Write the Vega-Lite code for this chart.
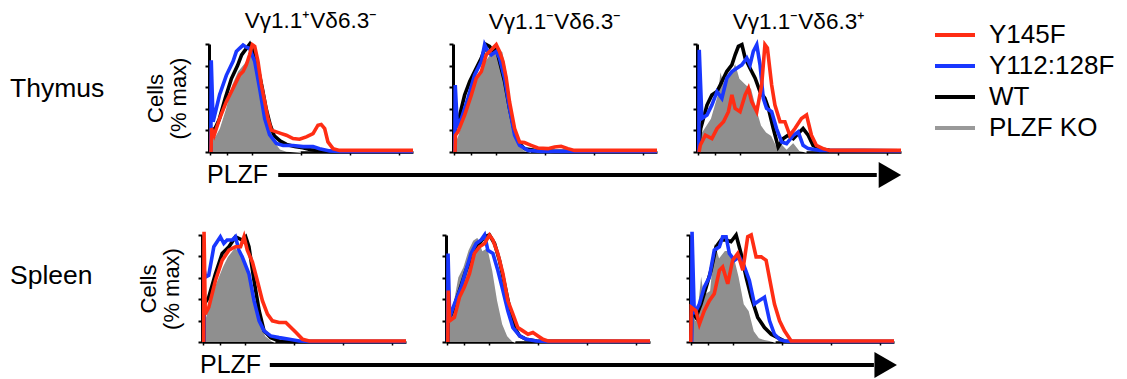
{
"$schema": "https://vega.github.io/schema/vega-lite/v6.json",
"padding": {"left": 10, "top": 10, "right": 5, "bottom": 0},
"config": {
  "view": {"stroke": null},
  "font": "Liberation Sans",
  "title": {"fontSize": 22.5, "fontWeight": "normal", "offset": 4, "color": "black"},
  "axis": {"grid": false, "labels": false, "domainColor": "black", "tickColor": "black", "zindex": 1, "titleFontWeight": "normal", "titleColor": "black"},
  "legend": {"padding": 0}
},
"datasets": {
"h": [
{"p":"T1","s":"PLZF KO","x":0.8,"y":0},{"p":"T1","s":"PLZF KO","x":1,"y":12},{"p":"T1","s":"PLZF KO","x":3,"y":15},{"p":"T1","s":"PLZF KO","x":5,"y":22},{"p":"T1","s":"PLZF KO","x":8,"y":40},{"p":"T1","s":"PLZF KO","x":11,"y":62},{"p":"T1","s":"PLZF KO","x":14,"y":75},{"p":"T1","s":"PLZF KO","x":17,"y":82},{"p":"T1","s":"PLZF KO","x":20,"y":90},{"p":"T1","s":"PLZF KO","x":21.5,"y":93},{"p":"T1","s":"PLZF KO","x":23,"y":88},{"p":"T1","s":"PLZF KO","x":25,"y":75},{"p":"T1","s":"PLZF KO","x":27,"y":55},{"p":"T1","s":"PLZF KO","x":29,"y":35},{"p":"T1","s":"PLZF KO","x":31,"y":18},{"p":"T1","s":"PLZF KO","x":33,"y":8},{"p":"T1","s":"PLZF KO","x":35,"y":3},{"p":"T1","s":"PLZF KO","x":38,"y":1},{"p":"T1","s":"PLZF KO","x":45,"y":0},
{"p":"T1","s":"WT","x":0.8,"y":0},{"p":"T1","s":"WT","x":1,"y":20},{"p":"T1","s":"WT","x":3,"y":22},{"p":"T1","s":"WT","x":5,"y":30},{"p":"T1","s":"WT","x":8,"y":50},{"p":"T1","s":"WT","x":11,"y":68},{"p":"T1","s":"WT","x":14,"y":80},{"p":"T1","s":"WT","x":16,"y":90},{"p":"T1","s":"WT","x":18,"y":95},{"p":"T1","s":"WT","x":20,"y":100},{"p":"T1","s":"WT","x":22,"y":92},{"p":"T1","s":"WT","x":24,"y":78},{"p":"T1","s":"WT","x":26,"y":60},{"p":"T1","s":"WT","x":28,"y":40},{"p":"T1","s":"WT","x":30,"y":25},{"p":"T1","s":"WT","x":32,"y":15},{"p":"T1","s":"WT","x":35,"y":10},{"p":"T1","s":"WT","x":38,"y":7},{"p":"T1","s":"WT","x":42,"y":5},{"p":"T1","s":"WT","x":46,"y":4},{"p":"T1","s":"WT","x":50,"y":2},{"p":"T1","s":"WT","x":55,"y":1},{"p":"T1","s":"WT","x":60,"y":0.5},{"p":"T1","s":"WT","x":100,"y":0.5},
{"p":"T1","s":"Y112:128F","x":0.9,"y":0},{"p":"T1","s":"Y112:128F","x":1.1,"y":85},{"p":"T1","s":"Y112:128F","x":2,"y":28},{"p":"T1","s":"Y112:128F","x":5.2,"y":53},{"p":"T1","s":"Y112:128F","x":8.5,"y":71},{"p":"T1","s":"Y112:128F","x":11.8,"y":84},{"p":"T1","s":"Y112:128F","x":13.4,"y":93},{"p":"T1","s":"Y112:128F","x":15,"y":96},{"p":"T1","s":"Y112:128F","x":16.7,"y":99},{"p":"T1","s":"Y112:128F","x":18.3,"y":97},{"p":"T1","s":"Y112:128F","x":19.9,"y":96},{"p":"T1","s":"Y112:128F","x":22.4,"y":84},{"p":"T1","s":"Y112:128F","x":24.8,"y":59},{"p":"T1","s":"Y112:128F","x":27.3,"y":31},{"p":"T1","s":"Y112:128F","x":29.7,"y":16},{"p":"T1","s":"Y112:128F","x":33,"y":8},{"p":"T1","s":"Y112:128F","x":36.3,"y":6},{"p":"T1","s":"Y112:128F","x":41.2,"y":6},{"p":"T1","s":"Y112:128F","x":46.1,"y":5},{"p":"T1","s":"Y112:128F","x":51,"y":5},{"p":"T1","s":"Y112:128F","x":54.2,"y":3},{"p":"T1","s":"Y112:128F","x":59.2,"y":1},{"p":"T1","s":"Y112:128F","x":64,"y":0.5},{"p":"T1","s":"Y112:128F","x":100,"y":0.5},
{"p":"T1","s":"Y145F","x":1,"y":0},{"p":"T1","s":"Y145F","x":1.2,"y":22},{"p":"T1","s":"Y145F","x":2.5,"y":15.5},{"p":"T1","s":"Y145F","x":5.2,"y":31},{"p":"T1","s":"Y145F","x":8.5,"y":46.6},{"p":"T1","s":"Y145F","x":11.8,"y":59},{"p":"T1","s":"Y145F","x":15,"y":71.4},{"p":"T1","s":"Y145F","x":16.7,"y":74.5},{"p":"T1","s":"Y145F","x":18.3,"y":80.7},{"p":"T1","s":"Y145F","x":19.9,"y":90},{"p":"T1","s":"Y145F","x":21.2,"y":99.4},{"p":"T1","s":"Y145F","x":22.4,"y":97.8},{"p":"T1","s":"Y145F","x":24,"y":83.9},{"p":"T1","s":"Y145F","x":25.7,"y":62},{"p":"T1","s":"Y145F","x":27.3,"y":46.6},{"p":"T1","s":"Y145F","x":28.9,"y":31},{"p":"T1","s":"Y145F","x":30.6,"y":20.2},{"p":"T1","s":"Y145F","x":33,"y":18.6},{"p":"T1","s":"Y145F","x":35.5,"y":17},{"p":"T1","s":"Y145F","x":37.9,"y":15.5},{"p":"T1","s":"Y145F","x":41.2,"y":12.4},{"p":"T1","s":"Y145F","x":44.4,"y":11.8},{"p":"T1","s":"Y145F","x":47.7,"y":14},{"p":"T1","s":"Y145F","x":51,"y":17},{"p":"T1","s":"Y145F","x":53.4,"y":24.8},{"p":"T1","s":"Y145F","x":55,"y":25.5},{"p":"T1","s":"Y145F","x":56.7,"y":21.7},{"p":"T1","s":"Y145F","x":58.3,"y":9.3},{"p":"T1","s":"Y145F","x":60.8,"y":3.1},{"p":"T1","s":"Y145F","x":64,"y":1.5},{"p":"T1","s":"Y145F","x":100,"y":1.5},

{"p":"T2","s":"PLZF KO","x":1,"y":0},{"p":"T2","s":"PLZF KO","x":1.2,"y":10},{"p":"T2","s":"PLZF KO","x":2.4,"y":16},{"p":"T2","s":"PLZF KO","x":5.7,"y":37},{"p":"T2","s":"PLZF KO","x":9,"y":56},{"p":"T2","s":"PLZF KO","x":12.2,"y":71},{"p":"T2","s":"PLZF KO","x":15.5,"y":84},{"p":"T2","s":"PLZF KO","x":18.8,"y":93},{"p":"T2","s":"PLZF KO","x":22,"y":96},{"p":"T2","s":"PLZF KO","x":24.5,"y":93},{"p":"T2","s":"PLZF KO","x":26.9,"y":71},{"p":"T2","s":"PLZF KO","x":28.5,"y":47},{"p":"T2","s":"PLZF KO","x":30.2,"y":22},{"p":"T2","s":"PLZF KO","x":32.6,"y":6},{"p":"T2","s":"PLZF KO","x":35,"y":1.5},{"p":"T2","s":"PLZF KO","x":38.3,"y":0},
{"p":"T2","s":"WT","x":0.9,"y":0},{"p":"T2","s":"WT","x":1.1,"y":21.7},{"p":"T2","s":"WT","x":3.3,"y":34},{"p":"T2","s":"WT","x":5.7,"y":52.8},{"p":"T2","s":"WT","x":8.2,"y":65.2},{"p":"T2","s":"WT","x":10.6,"y":74.5},{"p":"T2","s":"WT","x":13.9,"y":87},{"p":"T2","s":"WT","x":16.3,"y":99.4},{"p":"T2","s":"WT","x":17.9,"y":97.8},{"p":"T2","s":"WT","x":19.6,"y":93.2},{"p":"T2","s":"WT","x":21.2,"y":96.3},{"p":"T2","s":"WT","x":22.8,"y":83.9},{"p":"T2","s":"WT","x":25.3,"y":65.2},{"p":"T2","s":"WT","x":27.7,"y":40.4},{"p":"T2","s":"WT","x":30.2,"y":18.6},{"p":"T2","s":"WT","x":32.6,"y":7.8},{"p":"T2","s":"WT","x":35,"y":3.1},{"p":"T2","s":"WT","x":40,"y":1.5},{"p":"T2","s":"WT","x":49.8,"y":0.6},{"p":"T2","s":"WT","x":100,"y":0.6},
{"p":"T2","s":"Y112:128F","x":0.9,"y":0},{"p":"T2","s":"Y112:128F","x":1.1,"y":62},{"p":"T2","s":"Y112:128F","x":2.1,"y":24.8},{"p":"T2","s":"Y112:128F","x":4.1,"y":31},{"p":"T2","s":"Y112:128F","x":7.3,"y":49.7},{"p":"T2","s":"Y112:128F","x":10.6,"y":71.4},{"p":"T2","s":"Y112:128F","x":13.9,"y":83.9},{"p":"T2","s":"Y112:128F","x":15.5,"y":99.4},{"p":"T2","s":"Y112:128F","x":17.1,"y":93.2},{"p":"T2","s":"Y112:128F","x":18.8,"y":90},{"p":"T2","s":"Y112:128F","x":21.2,"y":93.2},{"p":"T2","s":"Y112:128F","x":22.8,"y":87},{"p":"T2","s":"Y112:128F","x":25.3,"y":68.3},{"p":"T2","s":"Y112:128F","x":27.7,"y":40.4},{"p":"T2","s":"Y112:128F","x":30.2,"y":15.5},{"p":"T2","s":"Y112:128F","x":32.6,"y":6.2},{"p":"T2","s":"Y112:128F","x":36.7,"y":1.5},{"p":"T2","s":"Y112:128F","x":43.2,"y":0.6},{"p":"T2","s":"Y112:128F","x":100,"y":0.6},
{"p":"T2","s":"Y145F","x":1,"y":0},{"p":"T2","s":"Y145F","x":1.2,"y":15.5},{"p":"T2","s":"Y145F","x":2.4,"y":18.6},{"p":"T2","s":"Y145F","x":5.7,"y":34.2},{"p":"T2","s":"Y145F","x":9,"y":52.8},{"p":"T2","s":"Y145F","x":11.4,"y":68.3},{"p":"T2","s":"Y145F","x":13.9,"y":74.5},{"p":"T2","s":"Y145F","x":16.3,"y":90},{"p":"T2","s":"Y145F","x":18.8,"y":94.7},{"p":"T2","s":"Y145F","x":21.2,"y":99.4},{"p":"T2","s":"Y145F","x":22.8,"y":93.2},{"p":"T2","s":"Y145F","x":24.5,"y":83.9},{"p":"T2","s":"Y145F","x":26.1,"y":68.3},{"p":"T2","s":"Y145F","x":27.7,"y":46.6},{"p":"T2","s":"Y145F","x":30.2,"y":21.7},{"p":"T2","s":"Y145F","x":32.6,"y":9.3},{"p":"T2","s":"Y145F","x":35,"y":8.7},{"p":"T2","s":"Y145F","x":38.3,"y":6.2},{"p":"T2","s":"Y145F","x":41.6,"y":3.7},{"p":"T2","s":"Y145F","x":46.5,"y":3.1},{"p":"T2","s":"Y145F","x":49.8,"y":4.7},{"p":"T2","s":"Y145F","x":53,"y":5.3},{"p":"T2","s":"Y145F","x":56.3,"y":3.1},{"p":"T2","s":"Y145F","x":59.5,"y":1.5},{"p":"T2","s":"Y145F","x":100,"y":1.5},

{"p":"T3","s":"PLZF KO","x":1,"y":0},{"p":"T3","s":"PLZF KO","x":1.2,"y":15.5},{"p":"T3","s":"PLZF KO","x":3.3,"y":21.7},{"p":"T3","s":"PLZF KO","x":6.5,"y":31},{"p":"T3","s":"PLZF KO","x":9.8,"y":52.8},{"p":"T3","s":"PLZF KO","x":11.4,"y":77.6},{"p":"T3","s":"PLZF KO","x":13,"y":65.2},{"p":"T3","s":"PLZF KO","x":16.3,"y":71.4},{"p":"T3","s":"PLZF KO","x":18.7,"y":83.9},{"p":"T3","s":"PLZF KO","x":21.1,"y":68.3},{"p":"T3","s":"PLZF KO","x":24.4,"y":62.1},{"p":"T3","s":"PLZF KO","x":26.8,"y":59},{"p":"T3","s":"PLZF KO","x":29.3,"y":40.4},{"p":"T3","s":"PLZF KO","x":31.7,"y":24.8},{"p":"T3","s":"PLZF KO","x":34.1,"y":18.6},{"p":"T3","s":"PLZF KO","x":36.6,"y":15.5},{"p":"T3","s":"PLZF KO","x":39,"y":6.2},{"p":"T3","s":"PLZF KO","x":41.5,"y":7.8},{"p":"T3","s":"PLZF KO","x":43.9,"y":3.1},{"p":"T3","s":"PLZF KO","x":47.2,"y":9.3},{"p":"T3","s":"PLZF KO","x":50.4,"y":1.5},{"p":"T3","s":"PLZF KO","x":53.7,"y":0},
{"p":"T3","s":"WT","x":0.9,"y":0},{"p":"T3","s":"WT","x":1.1,"y":9.3},{"p":"T3","s":"WT","x":1.8,"y":21.7},{"p":"T3","s":"WT","x":4.9,"y":43.5},{"p":"T3","s":"WT","x":7.3,"y":52.8},{"p":"T3","s":"WT","x":9.8,"y":55.9},{"p":"T3","s":"WT","x":11.4,"y":62.1},{"p":"T3","s":"WT","x":14.6,"y":74.5},{"p":"T3","s":"WT","x":17.1,"y":80.7},{"p":"T3","s":"WT","x":18.7,"y":90},{"p":"T3","s":"WT","x":20.3,"y":97.8},{"p":"T3","s":"WT","x":22,"y":99.4},{"p":"T3","s":"WT","x":23.6,"y":87},{"p":"T3","s":"WT","x":26,"y":77.6},{"p":"T3","s":"WT","x":28.5,"y":68.3},{"p":"T3","s":"WT","x":30.9,"y":55.9},{"p":"T3","s":"WT","x":33.3,"y":49.7},{"p":"T3","s":"WT","x":35,"y":40.4},{"p":"T3","s":"WT","x":37.4,"y":21.7},{"p":"T3","s":"WT","x":39.8,"y":4.7},{"p":"T3","s":"WT","x":42.3,"y":12.4},{"p":"T3","s":"WT","x":44.7,"y":15.5},{"p":"T3","s":"WT","x":47.2,"y":12.4},{"p":"T3","s":"WT","x":49.6,"y":17.1},{"p":"T3","s":"WT","x":52,"y":21.7},{"p":"T3","s":"WT","x":54.5,"y":15.5},{"p":"T3","s":"WT","x":56.9,"y":6.2},{"p":"T3","s":"WT","x":60.2,"y":3.1},{"p":"T3","s":"WT","x":65,"y":1.5},{"p":"T3","s":"WT","x":100,"y":1},
{"p":"T3","s":"Y112:128F","x":0.9,"y":0},{"p":"T3","s":"Y112:128F","x":1.1,"y":94.7},{"p":"T3","s":"Y112:128F","x":2.4,"y":31},{"p":"T3","s":"Y112:128F","x":4.9,"y":34.2},{"p":"T3","s":"Y112:128F","x":7.3,"y":43.5},{"p":"T3","s":"Y112:128F","x":9.8,"y":55.9},{"p":"T3","s":"Y112:128F","x":12.2,"y":49.7},{"p":"T3","s":"Y112:128F","x":14.6,"y":68.3},{"p":"T3","s":"Y112:128F","x":17.1,"y":74.5},{"p":"T3","s":"Y112:128F","x":19.5,"y":77.6},{"p":"T3","s":"Y112:128F","x":22,"y":80.7},{"p":"T3","s":"Y112:128F","x":24.4,"y":87},{"p":"T3","s":"Y112:128F","x":26,"y":80.7},{"p":"T3","s":"Y112:128F","x":27.6,"y":93.2},{"p":"T3","s":"Y112:128F","x":29.3,"y":99.4},{"p":"T3","s":"Y112:128F","x":30.9,"y":80.7},{"p":"T3","s":"Y112:128F","x":32.5,"y":49.7},{"p":"T3","s":"Y112:128F","x":34.1,"y":40.4},{"p":"T3","s":"Y112:128F","x":36.6,"y":37.3},{"p":"T3","s":"Y112:128F","x":39,"y":21.7},{"p":"T3","s":"Y112:128F","x":41.5,"y":9.3},{"p":"T3","s":"Y112:128F","x":43.9,"y":7.8},{"p":"T3","s":"Y112:128F","x":47.2,"y":15.5},{"p":"T3","s":"Y112:128F","x":49.6,"y":18.6},{"p":"T3","s":"Y112:128F","x":52,"y":6.2},{"p":"T3","s":"Y112:128F","x":54.5,"y":3.1},{"p":"T3","s":"Y112:128F","x":60.2,"y":1.5},{"p":"T3","s":"Y112:128F","x":100,"y":1},
{"p":"T3","s":"Y145F","x":1,"y":0},{"p":"T3","s":"Y145F","x":1.6,"y":6.2},{"p":"T3","s":"Y145F","x":4.1,"y":15.5},{"p":"T3","s":"Y145F","x":7.3,"y":12.4},{"p":"T3","s":"Y145F","x":9.8,"y":21.7},{"p":"T3","s":"Y145F","x":13,"y":28},{"p":"T3","s":"Y145F","x":15.4,"y":37.3},{"p":"T3","s":"Y145F","x":17.1,"y":52.8},{"p":"T3","s":"Y145F","x":18.7,"y":40.4},{"p":"T3","s":"Y145F","x":21.1,"y":37.3},{"p":"T3","s":"Y145F","x":23.6,"y":52.8},{"p":"T3","s":"Y145F","x":25.2,"y":59},{"p":"T3","s":"Y145F","x":26.8,"y":46.6},{"p":"T3","s":"Y145F","x":29.3,"y":37.3},{"p":"T3","s":"Y145F","x":31.7,"y":62.1},{"p":"T3","s":"Y145F","x":33.3,"y":99.4},{"p":"T3","s":"Y145F","x":34.5,"y":96.3},{"p":"T3","s":"Y145F","x":36.6,"y":62.1},{"p":"T3","s":"Y145F","x":38.2,"y":43.5},{"p":"T3","s":"Y145F","x":40.7,"y":28},{"p":"T3","s":"Y145F","x":43.1,"y":28},{"p":"T3","s":"Y145F","x":45.5,"y":15.5},{"p":"T3","s":"Y145F","x":48,"y":21.7},{"p":"T3","s":"Y145F","x":51.2,"y":31},{"p":"T3","s":"Y145F","x":53.7,"y":34.2},{"p":"T3","s":"Y145F","x":56.1,"y":15.5},{"p":"T3","s":"Y145F","x":58.5,"y":6.2},{"p":"T3","s":"Y145F","x":61.8,"y":3.1},{"p":"T3","s":"Y145F","x":65,"y":1.5},{"p":"T3","s":"Y145F","x":100,"y":1.5},

{"p":"S1","s":"PLZF KO","x":1,"y":0},{"p":"S1","s":"PLZF KO","x":1.2,"y":19.8},{"p":"S1","s":"PLZF KO","x":3.3,"y":35.5},{"p":"S1","s":"PLZF KO","x":6.6,"y":54.4},{"p":"S1","s":"PLZF KO","x":9.9,"y":70.1},{"p":"S1","s":"PLZF KO","x":12.3,"y":79.6},{"p":"S1","s":"PLZF KO","x":14.8,"y":85.8},{"p":"S1","s":"PLZF KO","x":16.4,"y":89},{"p":"S1","s":"PLZF KO","x":18.9,"y":82.7},{"p":"S1","s":"PLZF KO","x":21.4,"y":76.4},{"p":"S1","s":"PLZF KO","x":23.8,"y":57.5},{"p":"S1","s":"PLZF KO","x":26.3,"y":35.5},{"p":"S1","s":"PLZF KO","x":28.8,"y":16.7},{"p":"S1","s":"PLZF KO","x":31.3,"y":5.7},{"p":"S1","s":"PLZF KO","x":34.5,"y":0.9},{"p":"S1","s":"PLZF KO","x":36,"y":0},
{"p":"S1","s":"WT","x":0.9,"y":0},{"p":"S1","s":"WT","x":1.1,"y":35.5},{"p":"S1","s":"WT","x":3.3,"y":41.8},{"p":"S1","s":"WT","x":6.6,"y":63.8},{"p":"S1","s":"WT","x":9.9,"y":82.7},{"p":"S1","s":"WT","x":13.2,"y":89},{"p":"S1","s":"WT","x":16.4,"y":98.4},{"p":"S1","s":"WT","x":19.7,"y":95.3},{"p":"S1","s":"WT","x":21.4,"y":98.4},{"p":"S1","s":"WT","x":23,"y":89},{"p":"S1","s":"WT","x":25.5,"y":57.5},{"p":"S1","s":"WT","x":28,"y":29.2},{"p":"S1","s":"WT","x":30.4,"y":10.4},{"p":"S1","s":"WT","x":33.7,"y":4.1},{"p":"S1","s":"WT","x":37.8,"y":0.9},{"p":"S1","s":"WT","x":42.8,"y":0.5},{"p":"S1","s":"WT","x":100,"y":0.5},
{"p":"S1","s":"Y112:128F","x":0.9,"y":0},{"p":"S1","s":"Y112:128F","x":1.1,"y":67},{"p":"S1","s":"Y112:128F","x":1.8,"y":60.7},{"p":"S1","s":"Y112:128F","x":3.3,"y":62.3},{"p":"S1","s":"Y112:128F","x":5.8,"y":89},{"p":"S1","s":"Y112:128F","x":9,"y":98.4},{"p":"S1","s":"Y112:128F","x":10.7,"y":92.1},{"p":"S1","s":"Y112:128F","x":12.3,"y":95.3},{"p":"S1","s":"Y112:128F","x":14.8,"y":95.3},{"p":"S1","s":"Y112:128F","x":16.4,"y":98.4},{"p":"S1","s":"Y112:128F","x":18.1,"y":85.8},{"p":"S1","s":"Y112:128F","x":19.7,"y":79.6},{"p":"S1","s":"Y112:128F","x":23,"y":63.8},{"p":"S1","s":"Y112:128F","x":25.5,"y":38.7},{"p":"S1","s":"Y112:128F","x":28,"y":19.8},{"p":"S1","s":"Y112:128F","x":30.4,"y":10.4},{"p":"S1","s":"Y112:128F","x":33.7,"y":5.7},{"p":"S1","s":"Y112:128F","x":37.8,"y":4.1},{"p":"S1","s":"Y112:128F","x":42.8,"y":2.5},{"p":"S1","s":"Y112:128F","x":47.7,"y":0.9},{"p":"S1","s":"Y112:128F","x":52.6,"y":0.5},{"p":"S1","s":"Y112:128F","x":100,"y":0.5},
{"p":"S1","s":"Y145F","x":0.8,"y":0},{"p":"S1","s":"Y145F","x":1,"y":103},{"p":"S1","s":"Y145F","x":1.6,"y":26.1},{"p":"S1","s":"Y145F","x":3.3,"y":32.4},{"p":"S1","s":"Y145F","x":6.6,"y":57.5},{"p":"S1","s":"Y145F","x":9.9,"y":76.4},{"p":"S1","s":"Y145F","x":13.2,"y":85.8},{"p":"S1","s":"Y145F","x":16.4,"y":89},{"p":"S1","s":"Y145F","x":18.9,"y":89},{"p":"S1","s":"Y145F","x":20.6,"y":98.4},{"p":"S1","s":"Y145F","x":22.2,"y":85.8},{"p":"S1","s":"Y145F","x":24.7,"y":74.8},{"p":"S1","s":"Y145F","x":27.1,"y":57.5},{"p":"S1","s":"Y145F","x":29.6,"y":38.7},{"p":"S1","s":"Y145F","x":32.1,"y":26.1},{"p":"S1","s":"Y145F","x":34.5,"y":19.8},{"p":"S1","s":"Y145F","x":37.8,"y":18.2},{"p":"S1","s":"Y145F","x":41.1,"y":18.2},{"p":"S1","s":"Y145F","x":43.6,"y":13.5},{"p":"S1","s":"Y145F","x":46.1,"y":8.8},{"p":"S1","s":"Y145F","x":49.3,"y":2.5},{"p":"S1","s":"Y145F","x":52.6,"y":1},{"p":"S1","s":"Y145F","x":100,"y":1},

{"p":"S2","s":"PLZF KO","x":1,"y":0},{"p":"S2","s":"PLZF KO","x":1.2,"y":26.1},{"p":"S2","s":"PLZF KO","x":3.3,"y":35.5},{"p":"S2","s":"PLZF KO","x":5.7,"y":60.7},{"p":"S2","s":"PLZF KO","x":8.2,"y":70.1},{"p":"S2","s":"PLZF KO","x":10.7,"y":85.8},{"p":"S2","s":"PLZF KO","x":13.1,"y":95.3},{"p":"S2","s":"PLZF KO","x":15.6,"y":98.4},{"p":"S2","s":"PLZF KO","x":18,"y":85.8},{"p":"S2","s":"PLZF KO","x":20.5,"y":89},{"p":"S2","s":"PLZF KO","x":23,"y":67},{"p":"S2","s":"PLZF KO","x":25.4,"y":38.7},{"p":"S2","s":"PLZF KO","x":27.9,"y":16.7},{"p":"S2","s":"PLZF KO","x":30.3,"y":5.7},{"p":"S2","s":"PLZF KO","x":32.8,"y":0.9},{"p":"S2","s":"PLZF KO","x":34,"y":0},
{"p":"S2","s":"WT","x":0.9,"y":0},{"p":"S2","s":"WT","x":1.1,"y":19.8},{"p":"S2","s":"WT","x":3.3,"y":29.2},{"p":"S2","s":"WT","x":6.6,"y":48.1},{"p":"S2","s":"WT","x":9.8,"y":67},{"p":"S2","s":"WT","x":13.1,"y":82.7},{"p":"S2","s":"WT","x":16.4,"y":92.1},{"p":"S2","s":"WT","x":18.9,"y":98.4},{"p":"S2","s":"WT","x":21.3,"y":100},{"p":"S2","s":"WT","x":23.8,"y":92.1},{"p":"S2","s":"WT","x":26.2,"y":76.4},{"p":"S2","s":"WT","x":28.7,"y":54.4},{"p":"S2","s":"WT","x":31.1,"y":32.4},{"p":"S2","s":"WT","x":33.6,"y":13.5},{"p":"S2","s":"WT","x":36.1,"y":5.7},{"p":"S2","s":"WT","x":39.3,"y":2.5},{"p":"S2","s":"WT","x":44.3,"y":0.9},{"p":"S2","s":"WT","x":100,"y":0.5},
{"p":"S2","s":"Y112:128F","x":0.8,"y":0},{"p":"S2","s":"Y112:128F","x":1,"y":82.7},{"p":"S2","s":"Y112:128F","x":1.8,"y":23},{"p":"S2","s":"Y112:128F","x":4.1,"y":35.5},{"p":"S2","s":"Y112:128F","x":7.4,"y":51.3},{"p":"S2","s":"Y112:128F","x":9.8,"y":67},{"p":"S2","s":"Y112:128F","x":12.3,"y":82.7},{"p":"S2","s":"Y112:128F","x":14.8,"y":92.1},{"p":"S2","s":"Y112:128F","x":17.2,"y":95.3},{"p":"S2","s":"Y112:128F","x":18.9,"y":100},{"p":"S2","s":"Y112:128F","x":20.5,"y":85.8},{"p":"S2","s":"Y112:128F","x":23,"y":82.7},{"p":"S2","s":"Y112:128F","x":25.4,"y":67},{"p":"S2","s":"Y112:128F","x":27.9,"y":48.1},{"p":"S2","s":"Y112:128F","x":30.3,"y":29.2},{"p":"S2","s":"Y112:128F","x":32.8,"y":13.5},{"p":"S2","s":"Y112:128F","x":36.1,"y":5.7},{"p":"S2","s":"Y112:128F","x":39.3,"y":2.5},{"p":"S2","s":"Y112:128F","x":44.3,"y":0.9},{"p":"S2","s":"Y112:128F","x":49.2,"y":0.5},{"p":"S2","s":"Y112:128F","x":100,"y":0.5},
{"p":"S2","s":"Y145F","x":0.9,"y":0},{"p":"S2","s":"Y145F","x":1.1,"y":48.1},{"p":"S2","s":"Y145F","x":1.8,"y":19.8},{"p":"S2","s":"Y145F","x":4.1,"y":23},{"p":"S2","s":"Y145F","x":6.6,"y":41.8},{"p":"S2","s":"Y145F","x":9,"y":51.3},{"p":"S2","s":"Y145F","x":11.5,"y":63.8},{"p":"S2","s":"Y145F","x":13.9,"y":82.7},{"p":"S2","s":"Y145F","x":16.4,"y":89},{"p":"S2","s":"Y145F","x":18.9,"y":92.1},{"p":"S2","s":"Y145F","x":21.3,"y":100},{"p":"S2","s":"Y145F","x":23,"y":95.3},{"p":"S2","s":"Y145F","x":25.4,"y":82.7},{"p":"S2","s":"Y145F","x":27.9,"y":63.8},{"p":"S2","s":"Y145F","x":30.3,"y":38.7},{"p":"S2","s":"Y145F","x":32.8,"y":26.1},{"p":"S2","s":"Y145F","x":35.2,"y":13.5},{"p":"S2","s":"Y145F","x":37.7,"y":10.4},{"p":"S2","s":"Y145F","x":40.2,"y":7.2},{"p":"S2","s":"Y145F","x":42.6,"y":8.8},{"p":"S2","s":"Y145F","x":45.1,"y":5.7},{"p":"S2","s":"Y145F","x":47.5,"y":2.5},{"p":"S2","s":"Y145F","x":50,"y":1},{"p":"S2","s":"Y145F","x":100,"y":1},

{"p":"S3","s":"PLZF KO","x":1,"y":0},{"p":"S3","s":"PLZF KO","x":1.3,"y":35.5},{"p":"S3","s":"PLZF KO","x":2.9,"y":19.8},{"p":"S3","s":"PLZF KO","x":5.4,"y":67},{"p":"S3","s":"PLZF KO","x":7,"y":45},{"p":"S3","s":"PLZF KO","x":9.5,"y":48.1},{"p":"S3","s":"PLZF KO","x":11.9,"y":95.3},{"p":"S3","s":"PLZF KO","x":14.4,"y":79.6},{"p":"S3","s":"PLZF KO","x":16.9,"y":85.8},{"p":"S3","s":"PLZF KO","x":19.3,"y":85.8},{"p":"S3","s":"PLZF KO","x":21.8,"y":79.6},{"p":"S3","s":"PLZF KO","x":24.2,"y":60.7},{"p":"S3","s":"PLZF KO","x":26.7,"y":35.5},{"p":"S3","s":"PLZF KO","x":29.1,"y":29.2},{"p":"S3","s":"PLZF KO","x":31.6,"y":10.4},{"p":"S3","s":"PLZF KO","x":34,"y":4.1},{"p":"S3","s":"PLZF KO","x":36.5,"y":2.5},{"p":"S3","s":"PLZF KO","x":39,"y":1.6},{"p":"S3","s":"PLZF KO","x":41.4,"y":0.3},{"p":"S3","s":"PLZF KO","x":42,"y":0},
{"p":"S3","s":"WT","x":0.6,"y":0},{"p":"S3","s":"WT","x":0.8,"y":29.2},{"p":"S3","s":"WT","x":2.9,"y":23},{"p":"S3","s":"WT","x":5.4,"y":35.5},{"p":"S3","s":"WT","x":7.9,"y":51.3},{"p":"S3","s":"WT","x":10.3,"y":67},{"p":"S3","s":"WT","x":12.8,"y":89},{"p":"S3","s":"WT","x":15.2,"y":95.3},{"p":"S3","s":"WT","x":17.7,"y":95.3},{"p":"S3","s":"WT","x":20.1,"y":93.7},{"p":"S3","s":"WT","x":22.6,"y":100},{"p":"S3","s":"WT","x":25,"y":82.7},{"p":"S3","s":"WT","x":27.5,"y":60.7},{"p":"S3","s":"WT","x":30,"y":41.8},{"p":"S3","s":"WT","x":33.2,"y":23},{"p":"S3","s":"WT","x":36.5,"y":13.5},{"p":"S3","s":"WT","x":39.8,"y":7.2},{"p":"S3","s":"WT","x":43,"y":4.1},{"p":"S3","s":"WT","x":46.3,"y":0.9},{"p":"S3","s":"WT","x":49.6,"y":0.5},{"p":"S3","s":"WT","x":100,"y":0.5},
{"p":"S3","s":"Y112:128F","x":0.8,"y":0},{"p":"S3","s":"Y112:128F","x":1,"y":103},{"p":"S3","s":"Y112:128F","x":2.1,"y":26.1},{"p":"S3","s":"Y112:128F","x":4.6,"y":35.5},{"p":"S3","s":"Y112:128F","x":7,"y":51.3},{"p":"S3","s":"Y112:128F","x":9.5,"y":60.7},{"p":"S3","s":"Y112:128F","x":11.9,"y":85.8},{"p":"S3","s":"Y112:128F","x":14.4,"y":89},{"p":"S3","s":"Y112:128F","x":16,"y":98.4},{"p":"S3","s":"Y112:128F","x":17.7,"y":98.4},{"p":"S3","s":"Y112:128F","x":19.3,"y":82.7},{"p":"S3","s":"Y112:128F","x":21.8,"y":76.4},{"p":"S3","s":"Y112:128F","x":24.2,"y":79.6},{"p":"S3","s":"Y112:128F","x":26.7,"y":70.1},{"p":"S3","s":"Y112:128F","x":29.1,"y":57.5},{"p":"S3","s":"Y112:128F","x":31.6,"y":35.5},{"p":"S3","s":"Y112:128F","x":34,"y":38.7},{"p":"S3","s":"Y112:128F","x":36.5,"y":41.8},{"p":"S3","s":"Y112:128F","x":39,"y":19.8},{"p":"S3","s":"Y112:128F","x":41.4,"y":7.2},{"p":"S3","s":"Y112:128F","x":43.9,"y":2.5},{"p":"S3","s":"Y112:128F","x":46.3,"y":0.9},{"p":"S3","s":"Y112:128F","x":49.6,"y":0.5},{"p":"S3","s":"Y112:128F","x":100,"y":0.5},
{"p":"S3","s":"Y145F","x":0.4,"y":0},{"p":"S3","s":"Y145F","x":0.6,"y":32.4},{"p":"S3","s":"Y145F","x":2.9,"y":29.2},{"p":"S3","s":"Y145F","x":4.6,"y":16.7},{"p":"S3","s":"Y145F","x":7,"y":29.2},{"p":"S3","s":"Y145F","x":9.5,"y":38.7},{"p":"S3","s":"Y145F","x":11.9,"y":45},{"p":"S3","s":"Y145F","x":14.4,"y":67},{"p":"S3","s":"Y145F","x":16,"y":70.1},{"p":"S3","s":"Y145F","x":18.5,"y":54.4},{"p":"S3","s":"Y145F","x":20.9,"y":76.4},{"p":"S3","s":"Y145F","x":23.4,"y":82.7},{"p":"S3","s":"Y145F","x":25.9,"y":67},{"p":"S3","s":"Y145F","x":28.3,"y":98.4},{"p":"S3","s":"Y145F","x":30,"y":100},{"p":"S3","s":"Y145F","x":32.4,"y":79.6},{"p":"S3","s":"Y145F","x":34.9,"y":79.6},{"p":"S3","s":"Y145F","x":37.3,"y":76.4},{"p":"S3","s":"Y145F","x":39.8,"y":51.3},{"p":"S3","s":"Y145F","x":41.4,"y":35.5},{"p":"S3","s":"Y145F","x":43.9,"y":19.8},{"p":"S3","s":"Y145F","x":46.3,"y":10.4},{"p":"S3","s":"Y145F","x":49.6,"y":1},{"p":"S3","s":"Y145F","x":100,"y":1}
]
},
"spacing": 0,
"vconcat": [
 {"spacing": 40, "bounds": "flush", "hconcat": [
   {"width": 159, "height": 108, "data": {"values": [{"t": "Thymus"}]}, "mark": {"type": "text", "align": "left", "baseline": "middle", "fontSize": 26.5, "dx": -79.5, "dy": -9}, "encoding": {"text": {"field": "t"}}},
   {"width": 204, "height": 108, "title": "Vγ1.1⁺Vδ6.3⁻", "data": {"name": "h"}, "transform": [{"filter": "datum.p == 'T1'"}],
    "encoding": {"x": {"field": "x", "type": "quantitative", "scale": {"domain": [0, 100], "nice": false}, "axis": {"title": null, "values": [0.5, 9, 21, 45, 69, 93], "tickSize": 3, "tickWidth": 1.5, "domainWidth": 2.5}},
                 "y": {"field": "y", "type": "quantitative", "scale": {"domain": [0, 100], "nice": false}, "axis": {"title": ["Cells", "(% max)"], "titleFontSize": 22, "titleLineHeight": 23, "titlePadding": 14, "values": [0, 20, 40, 60, 80, 100], "tickSize": 4, "tickWidth": 2, "domainWidth": 3}}},
    "layer": [
      {"transform": [{"filter": "datum.s == 'PLZF KO'"}], "mark": {"type": "area", "fill": "#8f8f8f"}},
      {"transform": [{"filter": "datum.s == 'PLZF KO'"}], "mark": {"type": "line", "stroke": "white", "strokeWidth": 1.5}},
      {"transform": [{"filter": "datum.s == 'WT'"}], "mark": {"type": "line", "strokeWidth": 3.6}, "encoding": {"color": {"field": "s", "type": "nominal", "scale": {"domain": ["Y145F", "Y112:128F", "WT", "PLZF KO"], "range": ["#ff2d14", "#1937ff", "#000000", "#999999"]}, "legend": {"title": null, "orient": "none", "legendX": 932, "legendY": -22, "symbolType": "M-2,0H2", "symbolSize": 400, "symbolStrokeWidth": 4, "labelFontSize": 26, "labelOffset": 21, "rowPadding": 5, "labelColor": "black"}}}},
      {"transform": [{"filter": "datum.s == 'Y112:128F'"}], "mark": {"type": "line", "strokeWidth": 3.6}, "encoding": {"color": {"field": "s", "type": "nominal"}}},
      {"transform": [{"filter": "datum.s == 'Y145F'"}], "mark": {"type": "line", "strokeWidth": 3.6}, "encoding": {"color": {"field": "s", "type": "nominal"}}}
    ]},
   {"width": 204, "height": 108, "title": "Vγ1.1⁻Vδ6.3⁻", "data": {"name": "h"}, "transform": [{"filter": "datum.p == 'T2'"}],
    "encoding": {"x": {"field": "x", "type": "quantitative", "scale": {"domain": [0, 100], "nice": false}, "axis": {"title": null, "values": [0.5, 9, 21, 45, 69, 93], "tickSize": 3, "tickWidth": 1.5, "domainWidth": 2.5}},
                 "y": {"field": "y", "type": "quantitative", "scale": {"domain": [0, 100], "nice": false}, "axis": {"title": null, "values": [0, 20, 40, 60, 80, 100], "tickSize": 4, "tickWidth": 2, "domainWidth": 3}}},
    "layer": [
      {"transform": [{"filter": "datum.s == 'PLZF KO'"}], "mark": {"type": "area", "fill": "#8f8f8f"}},
      {"transform": [{"filter": "datum.s == 'PLZF KO'"}], "mark": {"type": "line", "stroke": "white", "strokeWidth": 1.5}},
      {"transform": [{"filter": "datum.s == 'WT'"}], "mark": {"type": "line", "strokeWidth": 3.6}, "encoding": {"color": {"field": "s", "type": "nominal"}}},
      {"transform": [{"filter": "datum.s == 'Y112:128F'"}], "mark": {"type": "line", "strokeWidth": 3.6}, "encoding": {"color": {"field": "s", "type": "nominal"}}},
      {"transform": [{"filter": "datum.s == 'Y145F'"}], "mark": {"type": "line", "strokeWidth": 3.6}, "encoding": {"color": {"field": "s", "type": "nominal"}}}
    ]},
   {"width": 204, "height": 108, "title": "Vγ1.1⁻Vδ6.3⁺", "data": {"name": "h"}, "transform": [{"filter": "datum.p == 'T3'"}],
    "encoding": {"x": {"field": "x", "type": "quantitative", "scale": {"domain": [0, 100], "nice": false}, "axis": {"title": null, "values": [0.5, 9, 21, 45, 69, 93], "tickSize": 3, "tickWidth": 1.5, "domainWidth": 2.5}},
                 "y": {"field": "y", "type": "quantitative", "scale": {"domain": [0, 100], "nice": false}, "axis": {"title": null, "values": [0, 20, 40, 60, 80, 100], "tickSize": 4, "tickWidth": 2, "domainWidth": 3}}},
    "layer": [
      {"transform": [{"filter": "datum.s == 'PLZF KO'"}], "mark": {"type": "area", "fill": "#8f8f8f"}},
      {"transform": [{"filter": "datum.s == 'PLZF KO'"}], "mark": {"type": "line", "stroke": "white", "strokeWidth": 1.5}},
      {"transform": [{"filter": "datum.s == 'WT'"}], "mark": {"type": "line", "strokeWidth": 3.6}, "encoding": {"color": {"field": "s", "type": "nominal"}}},
      {"transform": [{"filter": "datum.s == 'Y112:128F'"}], "mark": {"type": "line", "strokeWidth": 3.6}, "encoding": {"color": {"field": "s", "type": "nominal"}}},
      {"transform": [{"filter": "datum.s == 'Y145F'"}], "mark": {"type": "line", "strokeWidth": 3.6}, "encoding": {"color": {"field": "s", "type": "nominal"}}}
    ]}
 ]},
 {"spacing": 40, "bounds": "flush", "hconcat": [
   {"width": 159, "height": 64, "data": {"values": [{"t": ""}]}, "mark": {"type": "text"}, "encoding": {"text": {"field": "t"}}},
   {"width": 692, "height": 64, "data": {"values": [{"lbl": "PLZF"}]},
    "layer": [
      {"mark": {"type": "rule", "strokeWidth": 4, "color": "black"}, "encoding": {"x": {"datum": 10, "type": "quantitative", "scale": {"domain": [0, 100]}, "axis": null}, "x2": {"datum": 96.5}, "y": {"datum": 0.766, "type": "quantitative", "scale": {"domain": [0, 1]}, "axis": null}}},
      {"mark": {"type": "point", "shape": "triangle-right", "filled": true, "size": 676, "color": "black", "opacity": 1}, "encoding": {"x": {"datum": 98.4, "type": "quantitative"}, "y": {"datum": 0.766, "type": "quantitative"}}},
      {"mark": {"type": "text", "align": "left", "baseline": "middle", "fontSize": 25, "dx": -2, "color": "black"}, "encoding": {"text": {"field": "lbl"}, "x": {"datum": 0, "type": "quantitative"}, "y": {"datum": 0.766, "type": "quantitative"}}}
    ]}
 ]},
 {"spacing": 40, "bounds": "flush", "hconcat": [
   {"width": 152, "height": 107, "data": {"values": [{"t": "Spleen"}]}, "mark": {"type": "text", "align": "left", "baseline": "middle", "fontSize": 26.5, "dx": -76, "dy": -13}, "encoding": {"text": {"field": "t"}}},
   {"width": 204, "height": 107, "data": {"name": "h"}, "transform": [{"filter": "datum.p == 'S1'"}],
    "encoding": {"x": {"field": "x", "type": "quantitative", "scale": {"domain": [0, 100], "nice": false}, "axis": {"title": null, "values": [0.5, 9, 21, 45, 69, 93], "tickSize": 3, "tickWidth": 1.5, "domainWidth": 2.5}},
                 "y": {"field": "y", "type": "quantitative", "scale": {"domain": [0, 100], "nice": false}, "axis": {"title": ["Cells", "(% max)"], "titleFontSize": 22, "titleLineHeight": 23, "titlePadding": 14, "values": [0, 20, 40, 60, 80, 100], "tickSize": 4, "tickWidth": 2, "domainWidth": 3}}},
    "layer": [
      {"transform": [{"filter": "datum.s == 'PLZF KO'"}], "mark": {"type": "area", "fill": "#8f8f8f"}},
      {"transform": [{"filter": "datum.s == 'PLZF KO'"}], "mark": {"type": "line", "stroke": "white", "strokeWidth": 1.5}},
      {"transform": [{"filter": "datum.s == 'WT'"}], "mark": {"type": "line", "strokeWidth": 3.6}, "encoding": {"color": {"field": "s", "type": "nominal"}}},
      {"transform": [{"filter": "datum.s == 'Y112:128F'"}], "mark": {"type": "line", "strokeWidth": 3.6}, "encoding": {"color": {"field": "s", "type": "nominal"}}},
      {"transform": [{"filter": "datum.s == 'Y145F'"}], "mark": {"type": "line", "strokeWidth": 3.6}, "encoding": {"color": {"field": "s", "type": "nominal"}}}
    ]},
   {"width": 204, "height": 107, "data": {"name": "h"}, "transform": [{"filter": "datum.p == 'S2'"}],
    "encoding": {"x": {"field": "x", "type": "quantitative", "scale": {"domain": [0, 100], "nice": false}, "axis": {"title": null, "values": [0.5, 9, 21, 45, 69, 93], "tickSize": 3, "tickWidth": 1.5, "domainWidth": 2.5}},
                 "y": {"field": "y", "type": "quantitative", "scale": {"domain": [0, 100], "nice": false}, "axis": {"title": null, "values": [0, 20, 40, 60, 80, 100], "tickSize": 4, "tickWidth": 2, "domainWidth": 3}}},
    "layer": [
      {"transform": [{"filter": "datum.s == 'PLZF KO'"}], "mark": {"type": "area", "fill": "#8f8f8f"}},
      {"transform": [{"filter": "datum.s == 'PLZF KO'"}], "mark": {"type": "line", "stroke": "white", "strokeWidth": 1.5}},
      {"transform": [{"filter": "datum.s == 'WT'"}], "mark": {"type": "line", "strokeWidth": 3.6}, "encoding": {"color": {"field": "s", "type": "nominal"}}},
      {"transform": [{"filter": "datum.s == 'Y112:128F'"}], "mark": {"type": "line", "strokeWidth": 3.6}, "encoding": {"color": {"field": "s", "type": "nominal"}}},
      {"transform": [{"filter": "datum.s == 'Y145F'"}], "mark": {"type": "line", "strokeWidth": 3.6}, "encoding": {"color": {"field": "s", "type": "nominal"}}}
    ]},
   {"width": 204, "height": 107, "data": {"name": "h"}, "transform": [{"filter": "datum.p == 'S3'"}],
    "encoding": {"x": {"field": "x", "type": "quantitative", "scale": {"domain": [0, 100], "nice": false}, "axis": {"title": null, "values": [0.5, 9, 21, 45, 69, 93], "tickSize": 3, "tickWidth": 1.5, "domainWidth": 2.5}},
                 "y": {"field": "y", "type": "quantitative", "scale": {"domain": [0, 100], "nice": false}, "axis": {"title": null, "values": [0, 20, 40, 60, 80, 100], "tickSize": 4, "tickWidth": 2, "domainWidth": 3}}},
    "layer": [
      {"transform": [{"filter": "datum.s == 'PLZF KO'"}], "mark": {"type": "area", "fill": "#8f8f8f"}},
      {"transform": [{"filter": "datum.s == 'PLZF KO'"}], "mark": {"type": "line", "stroke": "white", "strokeWidth": 1.5}},
      {"transform": [{"filter": "datum.s == 'WT'"}], "mark": {"type": "line", "strokeWidth": 3.6}, "encoding": {"color": {"field": "s", "type": "nominal"}}},
      {"transform": [{"filter": "datum.s == 'Y112:128F'"}], "mark": {"type": "line", "strokeWidth": 3.6}, "encoding": {"color": {"field": "s", "type": "nominal"}}},
      {"transform": [{"filter": "datum.s == 'Y145F'"}], "mark": {"type": "line", "strokeWidth": 3.6}, "encoding": {"color": {"field": "s", "type": "nominal"}}}
    ]}
 ]},
 {"spacing": 40, "bounds": "flush", "hconcat": [
   {"width": 152, "height": 30, "data": {"values": [{"t": ""}]}, "mark": {"type": "text"}, "encoding": {"text": {"field": "t"}}},
   {"width": 692, "height": 30, "data": {"values": [{"lbl": "PLZF"}]},
    "layer": [
      {"mark": {"type": "rule", "strokeWidth": 4, "color": "black"}, "encoding": {"x": {"datum": 9.8, "type": "quantitative", "scale": {"domain": [0, 100]}, "axis": null}, "x2": {"datum": 97.1}, "y": {"datum": 0.5, "type": "quantitative", "scale": {"domain": [0, 1]}, "axis": null}}},
      {"mark": {"type": "point", "shape": "triangle-right", "filled": true, "size": 676, "color": "black", "opacity": 1}, "encoding": {"x": {"datum": 98.8, "type": "quantitative"}, "y": {"datum": 0.5, "type": "quantitative"}}},
      {"mark": {"type": "text", "align": "left", "baseline": "middle", "fontSize": 25, "dx": -2, "color": "black"}, "encoding": {"text": {"field": "lbl"}, "x": {"datum": 0, "type": "quantitative"}, "y": {"datum": 0.5, "type": "quantitative"}}}
    ]}
 ]}
]
}
